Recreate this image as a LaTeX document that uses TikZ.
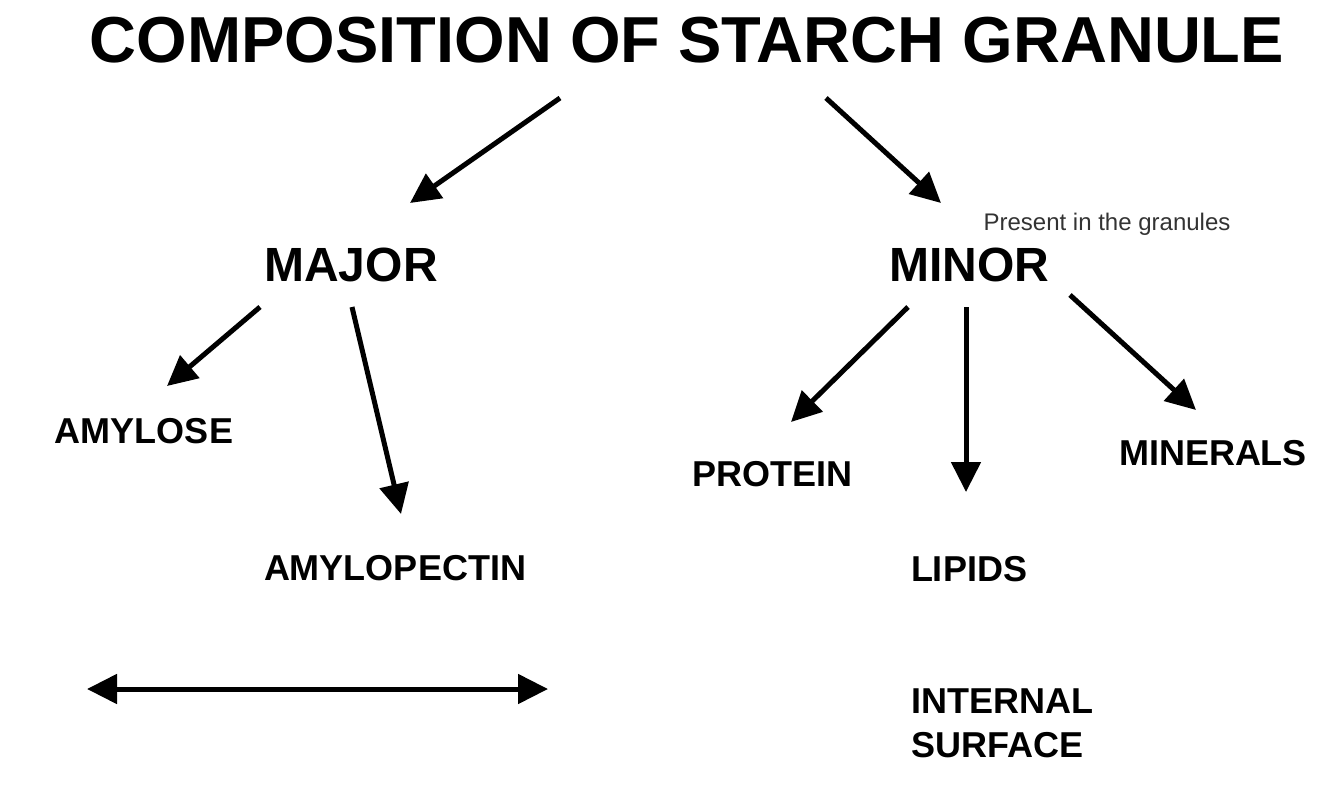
\documentclass[tikz,border=0pt]{standalone}
\usepackage{fontspec}
\setmainfont{Liberation Sans}
\usetikzlibrary{arrows.meta}
\definecolor{notegray}{HTML}{333333}
\tikzset{
  lbl/.style={font=\bfseries\fontsize{36}{40}\selectfont, inner sep=0pt, anchor=center},
  big/.style={font=\bfseries\fontsize{48}{52}\selectfont, inner sep=0pt, anchor=center},
  arr/.style={line width=5pt, -{Triangle[length=30pt,width=29pt]}},
  darr/.style={line width=5pt, {Triangle[length=30pt,width=29pt]}-{Triangle[length=30pt,width=29pt]}}
}
\begin{document}
\begin{tikzpicture}[x=1pt,y=-1pt]
\useasboundingbox (0,0) rectangle (1334,806);
\node[font=\bfseries\fontsize{65}{70}\selectfont, inner sep=0pt] (title) at (687,40) {COMPOSITION OF STARCH GRANULE};
\node[big] (major) at (351,265) {MAJOR};
\node[big] (minor) at (969,265) {MINOR};
\node[font=\fontsize{24}{28}\selectfont, text=notegray, inner sep=0pt] (note) at (1107,224) {Present in the granules};
\node[lbl] (amylose) at (144,431) {AMYLOSE};
\node[lbl] (amylopectin) at (395,568) {AMYLOPECTIN};
\node[lbl] (protein) at (772,474) {PROTEIN};
\node[lbl] (lipids) at (969,569) {LIPIDS};
\node[lbl] (minerals) at (1213,453) {MINERALS};
\node[lbl, anchor=west, align=left, font=\bfseries\fontsize{36}{44}\selectfont] (internal) at (911,723) {INTERNAL\\SURFACE};
% arrow endpoints
\coordinate (t1) at (560,98);   \coordinate (m1) at (410,203);
\coordinate (t2) at (826,98);   \coordinate (n1) at (941,203);
\coordinate (ma1) at (260,307); \coordinate (am1) at (167,386);
\coordinate (ma2) at (352,307); \coordinate (ap1) at (401,514);
\coordinate (mi1) at (908,307); \coordinate (pr1) at (791,422);
\coordinate (mi2) at (966,307); \coordinate (li1) at (966,492);
\coordinate (mi3) at (1070,295);\coordinate (mn1) at (1196,410);
\coordinate (dl) at (87,689);   \coordinate (dr) at (548,689);
\draw[arr] (t1) -- (m1);
\draw[arr] (t2) -- (n1);
\draw[arr] (ma1) -- (am1);
\draw[arr] (ma2) -- (ap1);
\draw[arr] (mi1) -- (pr1);
\draw[arr] (mi2) -- (li1);
\draw[arr] (mi3) -- (mn1);
\draw[darr] (dl) -- (dr);
\end{tikzpicture}
\end{document}
